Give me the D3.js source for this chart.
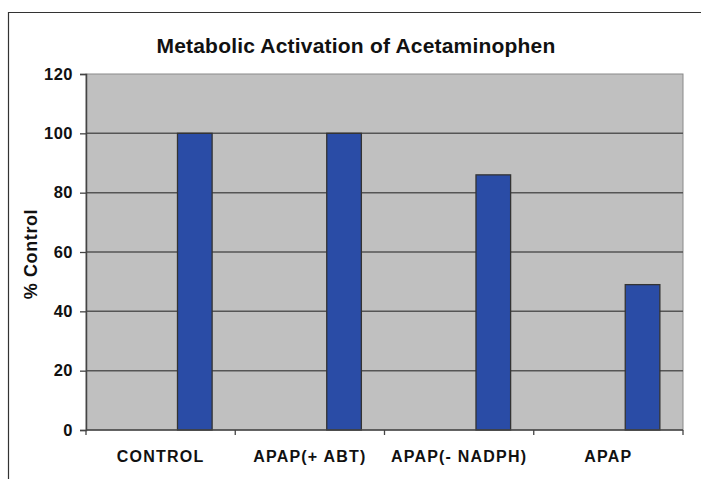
<!DOCTYPE html>
<html>
<head>
<meta charset="utf-8">
<script src="https://cdn.jsdelivr.net/npm/d3@7"></script>
<style>
  body { margin: 0; background: #fff; }
  text { font-family: "Liberation Sans", Arial, sans-serif; font-weight: bold; fill: #111; }
</style>
</head>
<body>
<svg id="chart" width="701" height="479"></svg>
<script>
var categories = ["CONTROL", "APAP(+ ABT)", "APAP(- NADPH)", "APAP"];
var values = [100, 100, 86, 49];
var yTicks = [0, 20, 40, 60, 80, 100, 120];

var svg = d3.select("svg#chart"),
    margin = {top: 74, right: 18, bottom: 49, left: 86},
    width = 701 - margin.left - margin.right,
    height = 479 - margin.top - margin.bottom;

// outer frame (top + left edges only visible)
svg.append("path")
    .attr("d", "M8.5,479 L8.5,12.5 L701,12.5")
    .attr("fill", "none")
    .attr("stroke", "#333")
    .attr("stroke-width", 1.2);

svg.append("text")
    .attr("x", 356)
    .attr("y", 53)
    .attr("text-anchor", "middle")
    .style("font-size", "21px")
    .style("letter-spacing", "0.2px")
    .text("Metabolic Activation of Acetaminophen");

var g = svg.append("g").attr("transform", "translate(" + margin.left + "," + margin.top + ")");

var x = d3.scaleBand().domain(categories).range([0, width]);
var y = d3.scaleLinear().domain([0, 120]).range([height, 0]);

// plot background
g.append("rect")
    .attr("width", width)
    .attr("height", height)
    .attr("fill", "#c0c0c0")
    .attr("stroke", "#8a8a8a");

// gridlines
g.selectAll(".grid")
    .data(yTicks.filter(function(d) { return d > 0 && d < 120; }))
  .enter().append("line")
    .attr("class", "grid")
    .attr("x1", 0).attr("x2", width)
    .attr("y1", function(d) { return y(d); })
    .attr("y2", function(d) { return y(d); })
    .attr("stroke", "#555")
    .attr("stroke-width", 1.5);

// bars sit in the right half of each category slot
g.selectAll(".bar")
    .data(values)
  .enter().append("rect")
    .attr("class", "bar")
    .attr("x", function(d, i) { return x(categories[i]) + x.bandwidth() * 0.613; })
    .attr("width", x.bandwidth() * 0.232)
    .attr("y", function(d) { return y(d); })
    .attr("height", function(d) { return height - y(d); })
    .attr("fill", "#2a4ca6")
    .attr("stroke", "#333")
    .attr("stroke-width", 1.3);

// y axis
var yAxis = g.append("g")
    .call(d3.axisLeft(y).tickValues(yTicks).tickSize(6).tickPadding(7));
yAxis.select(".domain").attr("stroke", "#444").attr("stroke-width", 1.5);
yAxis.selectAll(".tick line").attr("stroke", "#444").attr("stroke-width", 1.3);
yAxis.selectAll("text").style("font-size", "16.5px").style("letter-spacing", "0.5px").attr("fill", "#111");

// x axis: ticks at category boundaries
var xAxis = g.append("g").attr("transform", "translate(0," + height + ")");
xAxis.append("line")
    .attr("x1", 0).attr("x2", width)
    .attr("stroke", "#444").attr("stroke-width", 1.5);
xAxis.selectAll(".xtick")
    .data(categories)
  .enter().append("line")
    .attr("class", "xtick")
    .attr("x1", function(d) { return x(d) + x.bandwidth(); })
    .attr("x2", function(d) { return x(d) + x.bandwidth(); })
    .attr("y1", 0).attr("y2", 5)
    .attr("stroke", "#444").attr("stroke-width", 1.3);
xAxis.append("line")
    .attr("x1", 0).attr("x2", 0).attr("y1", 0).attr("y2", 5)
    .attr("stroke", "#444").attr("stroke-width", 1.3);
xAxis.selectAll(".xlabel")
    .data(categories)
  .enter().append("text")
    .attr("class", "xlabel")
    .attr("x", function(d) { return x(d) + x.bandwidth() / 2; })
    .attr("y", 32)
    .attr("text-anchor", "middle")
    .style("font-size", "16px")
    .style("letter-spacing", "1.2px")
    .text(function(d) { return d; });

svg.append("text")
    .attr("transform", "translate(37,254) rotate(-90)")
    .attr("text-anchor", "middle")
    .style("font-size", "18px")
    .style("letter-spacing", "0.6px")
    .text("% Control");
</script>
</body>
</html>
